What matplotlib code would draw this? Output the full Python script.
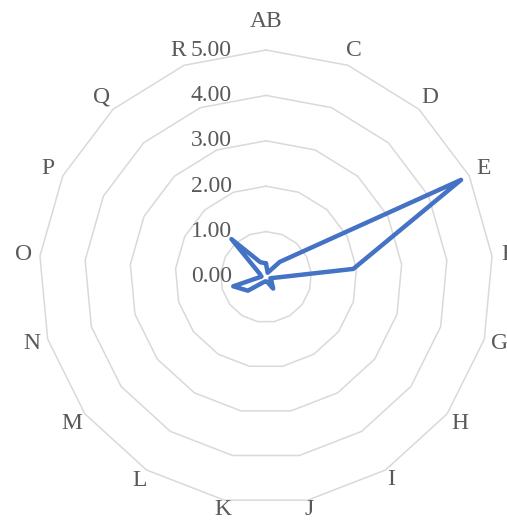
import numpy as np
import matplotlib
matplotlib.use("Agg")
import matplotlib.pyplot as plt
from matplotlib.transforms import offset_copy

categories = ["AB", "C", "D", "E", "F", "G", "H", "I", "J",
              "K", "L", "M", "N", "O", "P", "Q", "R"]
values = [0.30, 0.10, 0.45, 4.80, 1.93, 0.10, 0.15, 0.30, 0.10,
          0.10, 0.15, 0.50, 0.75, 0.10, 0.15, 1.13, 0.35]
ring_values = [0, 1, 2, 3, 4, 5]
ring_labels = ["0.00", "1.00", "2.00", "3.00", "4.00", "5.00"]

text_color = "#595959"
grid_color = "#d9d9d9"
line_color = "#4472C4"
font = ["Liberation Serif", "DejaVu Serif"]

W, H = 507, 522
fig = plt.figure(figsize=(W / 100, H / 100), dpi=100)
cx, cy, rad = 266, 277, 227
ax = fig.add_axes([(cx - rad) / W, (H - cy - rad) / H, 2 * rad / W, 2 * rad / H],
                  projection="polar")
ax.set_theta_zero_location("N")
ax.set_theta_direction(-1)
ax.set_ylim(0, 5)
ax.grid(False)
ax.set_xticks([])
ax.set_yticks([])
ax.spines["polar"].set_visible(False)
ax.patch.set_visible(False)

n = len(categories)
angles = np.arange(n) * 2 * np.pi / n
closed = np.append(angles, angles[0])

# polygonal rings
for r in ring_values[1:]:
    ax.plot(closed, np.full(n + 1, r), color=grid_color, lw=1.1,
            zorder=1, clip_on=False)

# data series
vals = np.append(values, values[0])
ax.plot(closed, vals, color=line_color, lw=3.2, zorder=3, clip_on=False,
        solid_joinstyle="round", solid_capstyle="round")

# value labels along the top spoke
lab_tr = offset_copy(ax.transData, fig=fig, x=-34, y=0, units="dots")
for r, s in zip(ring_values, ring_labels):
    ax.text(0, r, s, transform=lab_tr, ha="right", va="center",
            fontsize=17, color=text_color, family=font, zorder=2)

# category labels around the outside
label_r = {"AB": 5.62, "I": 5.25, "J": 5.2, "K": 5.2, "L": 5.28}
for a, c in zip(angles, categories):
    ax.text(a, label_r.get(c, 5.36), c, ha="center", va="center",
            fontsize=17, color=text_color, family=font, clip_on=False)

fig.savefig("out.png", dpi=100)
